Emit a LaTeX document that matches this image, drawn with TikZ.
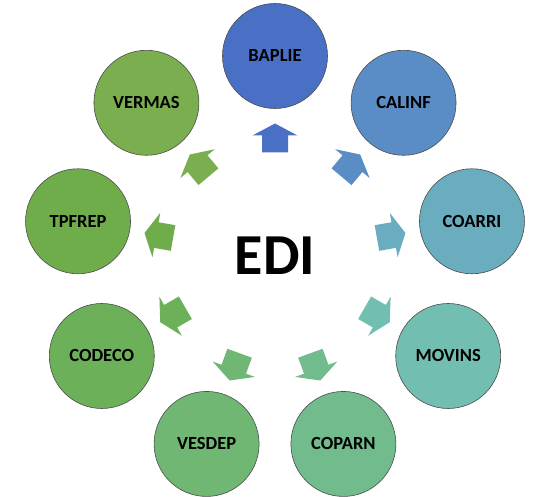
\documentclass[tikz,border=0pt]{standalone}
\usepackage{fontspec}
\setmainfont{Carlito}
\usetikzlibrary{calc}
\definecolor{cBAPLIE}{HTML}{4A70C6}
\definecolor{cCALINF}{HTML}{5A8DC6}
\definecolor{cCOARRI}{HTML}{6AADBF}
\definecolor{cMOVINS}{HTML}{72BEB0}
\definecolor{cCOPARN}{HTML}{72BB8C}
\definecolor{cVESDEP}{HTML}{6FB772}
\definecolor{cCODECO}{HTML}{6CB05A}
\definecolor{cTPFREP}{HTML}{6FAD4A}
\definecolor{cVERMAS}{HTML}{7AAE4E}
\begin{document}
\begin{tikzpicture}[x=1pt,y=1pt,
  ring/.style={circle, draw=black!70, line width=0.6pt, minimum size=105pt, inner sep=0pt,
    font=\bfseries\fontsize{18.5}{19}\selectfont},
  hub/.style={inner sep=0pt, font=\bfseries\fontsize{58}{60}\selectfont}]
\useasboundingbox (0,0) rectangle (536,497);
\coordinate (c) at (275,241);
\node[hub] (edi) at (c) {EDI};
\foreach \ang/\nm in {90/BAPLIE,50/CALINF,10/COARRI,-30/MOVINS,-70/COPARN,-110/VESDEP,-150/CODECO,170/TPFREP,130/VERMAS}{
  \node[ring, fill=c\nm] (\nm) at ($(c)+(\ang:200)$) {\nm};
  \fill[c\nm, shift={(c)}, rotate=\ang]
    (103.5,-13) -- (120.5,-13) -- (120.5,-22.5) -- (132.5,0) -- (120.5,22.5) -- (120.5,13) -- (103.5,13) -- cycle;
}
\end{tikzpicture}
\end{document}
